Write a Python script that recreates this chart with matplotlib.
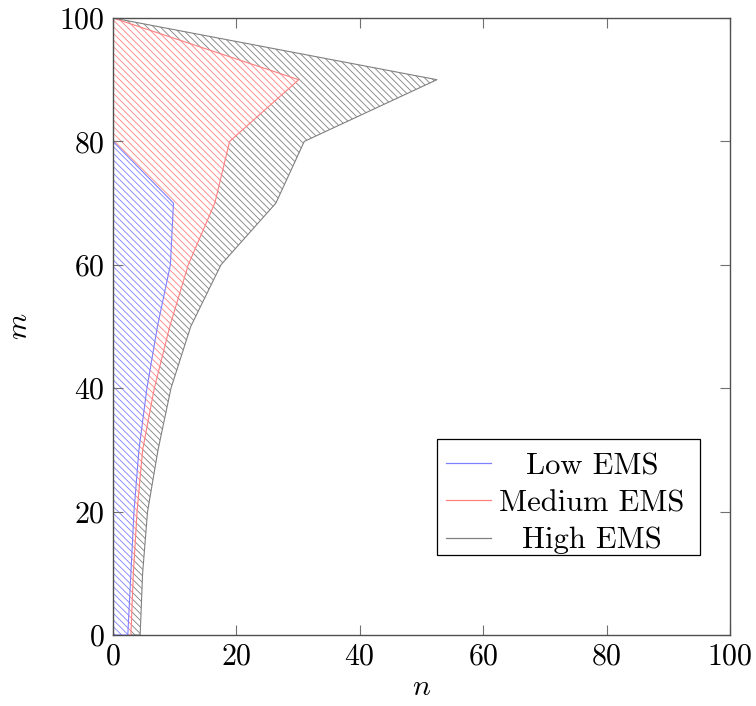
import matplotlib
matplotlib.use("Agg")
import matplotlib.pyplot as plt
from matplotlib.lines import Line2D
from matplotlib.patches import Rectangle

plt.rcParams['font.family'] = 'serif'
plt.rcParams['font.serif'] = ['cmr10']
plt.rcParams['mathtext.fontset'] = 'cm'
plt.rcParams['axes.formatter.use_mathtext'] = True
plt.rcParams['hatch.linewidth'] = 0.6

m_vals = [0, 10, 20, 30, 40, 50, 60, 70, 80, 90, 100]
low_ems = [2.4, 2.9, 3.4, 4.2, 5.5, 7.2, 9.3, 9.8, 0, 0, 0]
medium_ems = [2.9, 3.3, 3.9, 4.8, 6.7, 9.2, 12.2, 16.5, 18.9, 30.1, 0]
high_ems = [4.4, 4.8, 5.6, 7.3, 9.4, 12.6, 17.5, 26.4, 31.0, 52.5, 0]
series_names = ["Low EMS", "Medium EMS", "High EMS"]
ticks = [0, 20, 40, 60, 80, 100]

colors = {"Low EMS": "#8080ff", "Medium EMS": "#ff8080", "High EMS": "#808080"}

fig = plt.figure(figsize=(7.56, 7.06), dpi=100)
ax = fig.add_axes([113/756, 71/706, 617/756, 617/706])

for name, xs in [("High EMS", high_ems), ("Medium EMS", medium_ems), ("Low EMS", low_ems)]:
    ax.fill_betweenx(m_vals, 0, xs, facecolor='white', edgecolor=colors[name],
                     hatch='\\' * 5, linewidth=0.8)

ax.set_xlim(0, 100)
ax.set_ylim(0, 100)
ax.set_xticks(ticks)
ax.set_yticks(ticks)
ax.tick_params(direction='in', length=7, width=0.8, color='#707070',
               top=True, right=True, labelsize=21.5, pad=6)
for s in ax.spines.values():
    s.set_color('#505050')
    s.set_linewidth(1.0)
ax.set_xlabel('$n$', fontsize=21.5, labelpad=2)
ax.set_ylabel('$m$', fontsize=21.5, labelpad=19)

# legend box (pgfplots-like, centered text)
ax.add_patch(Rectangle((0.525, 0.130), 0.426, 0.188, transform=ax.transAxes,
                       facecolor='white', edgecolor='black', linewidth=0.9, zorder=5))
ys = [0.278, 0.218, 0.158]
for name, yy in zip(series_names, ys):
    ax.add_line(Line2D([0.540, 0.612], [yy, yy], transform=ax.transAxes,
                       color=colors[name], linewidth=0.9, zorder=6))
    ax.text(0.776, yy, name, transform=ax.transAxes, ha='center', va='center_baseline',
            fontsize=22, zorder=6)

fig.savefig('out.png', dpi=100)
